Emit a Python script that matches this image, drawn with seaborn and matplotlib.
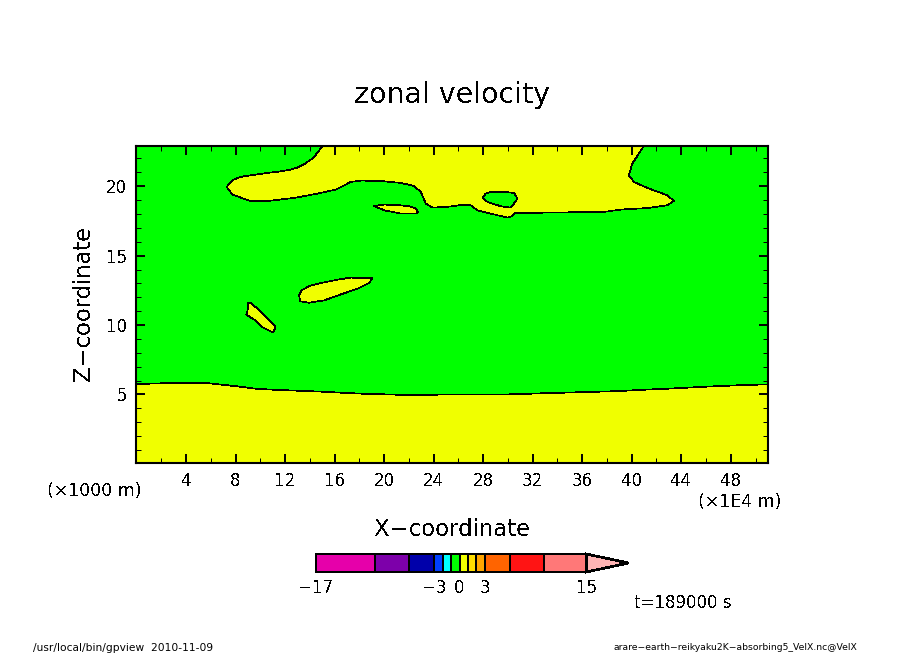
import matplotlib
matplotlib.use("Agg")
import matplotlib.pyplot as plt
import seaborn as sns

# zonal velocity cross section, contour outlines
x_ticks = [4, 8, 12, 16, 20, 24, 28, 32, 36, 40, 44, 48]
z_ticks = [5, 10, 15, 20]
x_range = [0, 51.05]
z_range = [0.1, 22.9]

lower_x = [0, 2.92, 5.61, 6.96, 8.70, 9.65, 11.1, 13.12, 15.03, 16.5, 18.36, 21.19,
           29.82, 33.29, 36.12, 38.86, 40.88, 42.74, 44.51, 45.96, 47.74, 49.59, 51.05]
lower_z = [5.75, 5.83, 5.83, 5.70, 5.53, 5.41, 5.34, 5.27, 5.20, 5.13, 5.05, 4.98,
           5.0, 5.10, 5.17, 5.24, 5.34, 5.41, 5.49, 5.56, 5.63, 5.70, 5.72]

upper_x = [15.03, 14.35, 14.08, 13.54, 13.01, 12.47, 11.53, 10.59, 9.64, 8.70, 8.17, 7.76, 7.28,
           7.76, 9.24, 10.59, 12.74,
           14.62, 16.10, 17.31, 18.12, 19.73, 21.35, 22.42, 22.96, 23.37, 23.91, 25.38,
           26.46, 27.0, 27.54, 28.61, 29.96, 30.36, 30.55, 32.91, 37.76, 39.10, 41.26,
           42.87, 43.41, 42.87, 41.26, 40.18, 39.77, 40.05, 40.98]
upper_z = [22.9, 22.11, 21.92, 21.59, 21.35, 21.20, 21.06, 20.96, 20.84, 20.72, 20.60, 20.43, 19.95,
           19.40, 18.92, 18.94, 19.16,
           19.47, 19.76, 20.31, 20.41, 20.38, 20.24, 20.02, 19.59, 18.75, 18.46, 18.54,
           18.68, 18.63, 18.27, 18.03, 17.74, 17.84, 18.07, 18.10, 18.15, 18.32, 18.43,
           18.63, 18.94, 19.35, 19.88, 20.31, 20.79, 21.64, 22.9]

hole_x = [27.94, 28.21, 28.61, 29.69, 30.49, 30.77, 30.49, 30.17, 29.42, 28.35]
hole_z = [19.18, 19.47, 19.59, 19.59, 19.52, 19.11, 18.75, 18.46, 18.56, 18.87]

lens_x = [19.19, 20.0, 21.08, 22.15, 22.56, 22.74, 22.56, 21.35, 20.0]
lens_z = [18.58, 18.68, 18.65, 18.54, 18.39, 18.15, 18.03, 18.03, 18.27]

blob_x = [13.14, 13.33, 13.95, 14.89, 16.24, 17.31, 19.06, 18.79, 17.85, 16.51, 15.16, 13.95, 13.22]
blob_z = [12.14, 12.50, 12.81, 13.03, 13.27, 13.42, 13.37, 13.03, 12.62, 12.21, 11.78, 11.61, 11.71]

sliver_x = [9.02, 9.24, 10.05, 10.99, 11.23, 11.12, 11.07, 10.86, 10.18, 9.51, 8.86, 8.97]
sliver_z = [11.61, 11.61, 10.94, 10.14, 9.85, 9.62, 9.49, 9.54, 9.85, 10.39, 10.75, 10.99]

# colour bar
levels = [-17, -10, -6, -3, -2, -1, 0, 1, 2, 3, 6, 10, 15]
level_colors = ["#e600aa", "#7d00aa", "#0000aa", "#0040ff", "#00ffff", "#00ff00",
                "#f0ff00", "#ffdd00", "#ffa500", "#ff6400", "#ff1414", "#ff7878"]
over_level = 20
over_color = "#ffb4b4"
bar_ticks = [-17, -3, 0, 3, 15]

GREEN = "#00ff00"
YELLOW = "#f0ff00"

sns.set_theme(style="ticks")
plt.rcParams["font.family"] = ["DejaVu Sans"]
plt.rcParams["text.antialiased"] = False
plt.rcParams["text.color"] = "black"
plt.rcParams["axes.labelcolor"] = "black"
plt.rcParams["xtick.color"] = "black"
plt.rcParams["ytick.color"] = "black"

W, H = 904, 654
LW = 0.5
fig = plt.figure(figsize=(W / 100, H / 100), dpi=100, facecolor="white")
ax = fig.add_axes([136.5 / W, (H - 462.5) / H, 632 / W, 316.5 / H])
ax.set_facecolor(GREEN)
ax.set_axisbelow(False)


def region(xs, zs, color):
    ax.fill(xs, zs, color=color, lw=0, antialiased=False, zorder=1)
    sns.lineplot(x=xs + xs[:1], y=zs + zs[:1], sort=False, estimator=None, color="black",
                 lw=LW, antialiased=False, ax=ax, zorder=2)


# lower layer runs to the bottom of the frame
ax.fill(lower_x + [x_range[1], x_range[0]], lower_z + [z_range[0], z_range[0]],
        color=YELLOW, lw=0, antialiased=False, zorder=1)
sns.lineplot(x=lower_x, y=lower_z, sort=False, estimator=None, color="black", lw=LW,
             antialiased=False, ax=ax, zorder=2)

# upper layer is open at the top, no outline along the frame
ax.fill(upper_x, upper_z, color=YELLOW, lw=0, antialiased=False, zorder=1)
sns.lineplot(x=upper_x, y=upper_z, sort=False, estimator=None, color="black", lw=LW,
             antialiased=False, ax=ax, zorder=2)

region(hole_x, hole_z, GREEN)
region(lens_x, lens_z, YELLOW)
region(blob_x, blob_z, YELLOW)
region(sliver_x, sliver_z, YELLOW)

ax.set_xlim(x_range)
ax.set_ylim(z_range)
ax.set_xticks(x_ticks)
ax.set_yticks(z_ticks)
ax.set_xticks([v + 2 for v in [0] + x_ticks], minor=True)
ax.set_yticks([v for v in range(1, 23) if v % 5 != 0], minor=True)
ax.tick_params(which="major", direction="in", length=6.5, width=1.4, top=True, right=True,
               labelsize=12, pad=7)
ax.tick_params(which="minor", direction="in", length=3.5, width=0.72, top=True, right=True)
for spine in ax.spines.values():
    spine.set_linewidth(1.5)
    spine.set_color("black")
    spine.set_visible(True)

ax.set_title("zonal velocity", fontsize=20.5, pad=31, color="black")
ax.set_xlabel("X\u2212coordinate", fontsize=16.4, va="center")
ax.xaxis.set_label_coords(0.5, -0.212)
ax.set_ylabel("Z\u2212coordinate", fontsize=16.3, va="center")
ax.yaxis.set_label_coords(-0.084, 0.503)

ax.text(-0.142, -0.089, "(\u00d71000 m)", transform=ax.transAxes, fontsize=12.5, va="center", ha="left")
ax.text(1.02, -0.124, "(\u00d71E4 m)", transform=ax.transAxes, fontsize=12.5, va="center", ha="right")

# colour bar
cax = fig.add_axes([316 / W, (H - 572) / H, 312.5 / W, 18 / H])
widths = [b - a for a, b in zip(levels[:-1], levels[1:])]
cax.barh([0.5] * len(widths), widths, left=levels[:-1], height=1, color=level_colors,
         edgecolor="black", lw=1.2, antialiased=False, clip_on=False)
cax.fill([levels[-1], over_level, levels[-1]], [0, 0.5, 1], facecolor=over_color, edgecolor="black",
         lw=1.2, antialiased=False, clip_on=False)
cax.set_xlim(levels[0], over_level)
cax.set_ylim(0, 1)
cax.set_yticks([])
cax.set_xticks(bar_ticks)
cax.tick_params(axis="x", length=0, labelsize=12, pad=5)
sns.despine(ax=cax, left=True, bottom=True)

fig.text(634 / W, 1 - 603 / H, "t=189000 s", fontsize=12, va="center", ha="left")
fig.text(33 / W, 1 - 648 / H, "/usr/local/bin/gpview  2010-11-09", fontsize=7.7, va="center", ha="left",
         antialiased=True)
fig.text(857 / W, 1 - 648 / H, "arare\u2212earth\u2212reikyaku2K\u2212absorbing5_VelX.nc@VelX", fontsize=6.7,
         va="center", ha="right", antialiased=True)

fig.savefig("out.png", dpi=100)
